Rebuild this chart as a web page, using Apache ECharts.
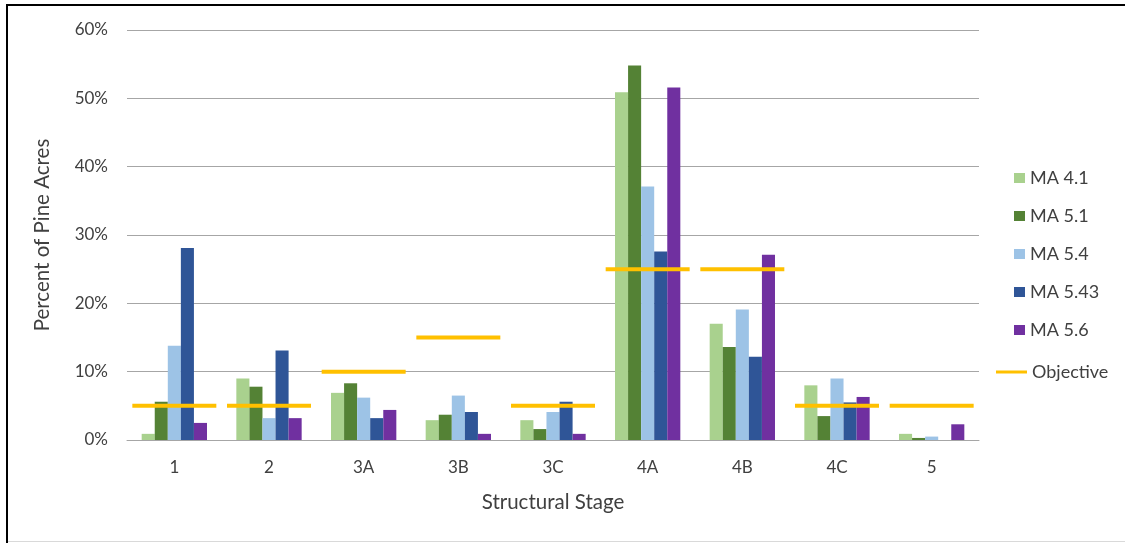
<!DOCTYPE html>
<html>
<head>
<meta charset="utf-8">
<script src="https://cdn.jsdelivr.net/npm/echarts@6/dist/echarts.min.js"></script>
<style>
  html, body { margin: 0; padding: 0; background: #fff; }
  #chart { width: 1125px; height: 543px; }
</style>
</head>
<body>
<div id="chart"></div>
<script>
// Structural stage distribution of pine acres by management area
const stages = ['1', '2', '3A', '3B', '3C', '4A', '4B', '4C', '5'];

const ma41  = [0.9, 9.0, 6.9, 2.9, 2.9, 50.9, 17.0, 8.0, 0.9];
const ma51  = [5.6, 7.8, 8.3, 3.7, 1.6, 54.8, 13.6, 3.5, 0.3];
const ma54  = [13.8, 3.2, 6.2, 6.5, 4.1, 37.1, 19.1, 9.0, 0.5];
const ma543 = [28.1, 13.1, 3.2, 4.1, 5.6, 27.6, 12.2, 5.5, 0.0];
const ma56  = [2.5, 3.2, 4.4, 0.9, 0.9, 51.6, 27.1, 6.3, 2.3];
const objective = [5, 5, 10, 15, 5, 25, 25, 5, 5];

const yTicks = [0, 10, 20, 30, 40, 50, 60];

const FONT = 'Lato';
const TEXT = '#404040';

function bar(name, data, color) {
  return {
    name, type: 'bar', data,
    barGap: '0%', barCategoryGap: '31%',
    itemStyle: { color },
    emphasis: { disabled: true },
    z: 2
  };
}

const chart = echarts.init(document.getElementById('chart'), null, { renderer: 'canvas' });

chart.setOption({
  animation: false,
  backgroundColor: '#ffffff',
  textStyle: { fontFamily: FONT },
  grid: { left: 127, right: 146, top: 30, bottom: 103 },
  xAxis: {
    type: 'category',
    data: stages,
    name: 'Structural Stage',
    nameLocation: 'middle',
    nameGap: 52,
    nameTextStyle: { fontFamily: FONT, fontSize: 20.5, color: TEXT },
    axisLine: { lineStyle: { color: '#A6A6A6', width: 1 } },
    axisTick: { show: false },
    axisLabel: { fontFamily: FONT, fontSize: 17, color: TEXT, margin: 19 }
  },
  yAxis: {
    type: 'value',
    min: yTicks[0],
    max: yTicks[yTicks.length - 1],
    interval: 10,
    name: 'Percent of Pine Acres',
    nameLocation: 'middle',
    nameGap: 74,
    nameTextStyle: { fontFamily: FONT, fontSize: 20.5, color: TEXT },
    axisLine: { show: false },
    axisTick: { show: false },
    axisLabel: { fontFamily: FONT, fontSize: 17, color: TEXT, margin: 19, formatter: '{value}%' },
    splitLine: { lineStyle: { color: '#A6A6A6', width: 1 } }
  },
  legend: [
    {
      orient: 'vertical',
      left: 1014, top: 169,
      padding: 0,
      itemWidth: 11, itemHeight: 10,
      itemGap: 20,
      icon: 'rect',
      data: ['MA 4.1', 'MA 5.1', 'MA 5.4', 'MA 5.43', 'MA 5.6'],
      textStyle: { fontFamily: FONT, fontSize: 18, lineHeight: 18, color: TEXT }
    },
    {
      orient: 'vertical',
      left: 996, top: 363,
      padding: 0,
      itemWidth: 31, itemHeight: 3,
      icon: 'rect',
      data: ['Objective'],
      textStyle: { fontFamily: FONT, fontSize: 18, lineHeight: 18, color: TEXT }
    }
  ],
  series: [
    bar('MA 4.1', ma41, '#A9D18E'),
    bar('MA 5.1', ma51, '#548235'),
    bar('MA 5.4', ma54, '#9DC3E6'),
    bar('MA 5.43', ma543, '#2F5597'),
    bar('MA 5.6', ma56, '#7030A0'),
    {
      name: 'Objective', type: 'scatter', data: objective,
      symbol: 'rect', symbolSize: [84, 4],
      itemStyle: { color: '#FFC000', opacity: 1 },
      emphasis: { disabled: true },
      z: 5
    }
  ],
  graphic: [
    { type: 'rect', shape: { x: 6, y: 4, width: 1119, height: 2 }, style: { fill: '#000' }, silent: true },
    { type: 'rect', shape: { x: 6, y: 4, width: 2, height: 539 }, style: { fill: '#000' }, silent: true },
    { type: 'rect', shape: { x: 8, y: 541, width: 1117, height: 1 }, style: { fill: '#D9D9D9' }, silent: true }
  ]
});
</script>
</body>
</html>
